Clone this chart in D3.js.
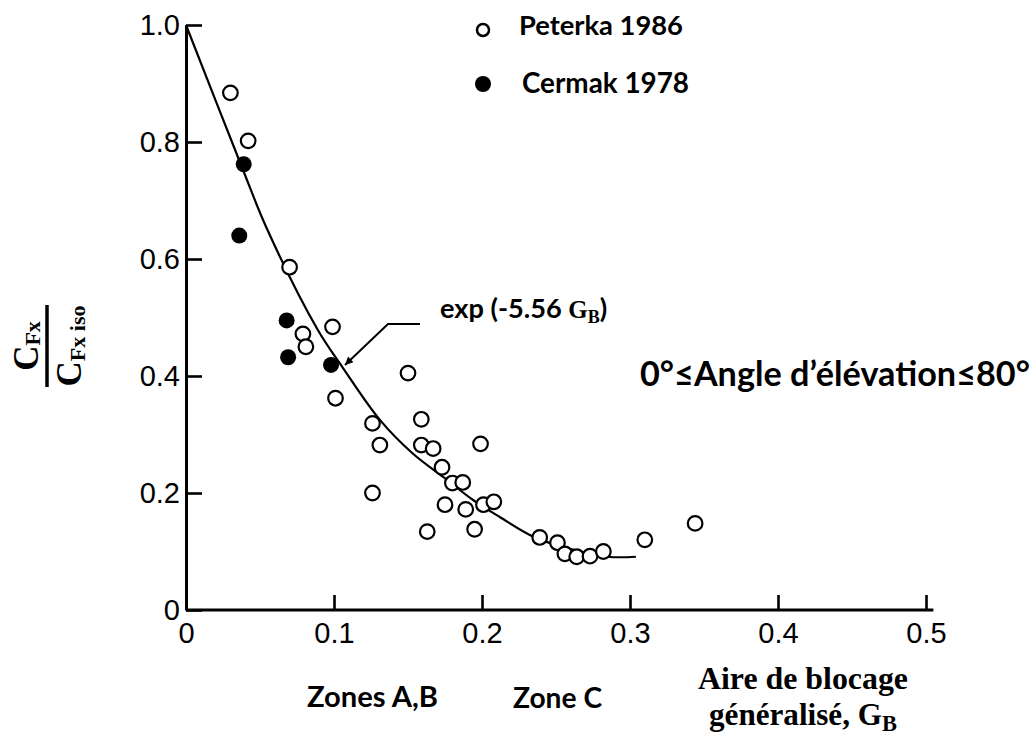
<!DOCTYPE html>
<html>
<head>
<meta charset="utf-8">
<script src="https://cdn.jsdelivr.net/npm/d3@7"></script>
<style>
  html, body { margin: 0; padding: 0; background: #fff; }
  svg { display: block; }
</style>
</head>
<body>
<svg id="chart" width="1036" height="740"></svg>
<script>
// ---- data ----
const peterkaX = [0.030, 0.042, 0.070, 0.099, 0.079, 0.081, 0.101, 0.126, 0.131, 0.150, 0.159, 0.159, 0.167, 0.199, 0.173, 0.180, 0.187, 0.126, 0.175, 0.189, 0.201, 0.208, 0.163, 0.195, 0.239, 0.251, 0.256, 0.264, 0.273, 0.282, 0.310, 0.344];
const peterkaY = [0.884, 0.802, 0.586, 0.484, 0.472, 0.450, 0.362, 0.319, 0.282, 0.405, 0.326, 0.282, 0.276, 0.284, 0.244, 0.217, 0.218, 0.200, 0.180, 0.172, 0.180, 0.185, 0.134, 0.138, 0.124, 0.115, 0.096, 0.091, 0.092, 0.100, 0.120, 0.148];
const cermakX = [0.039, 0.036, 0.068, 0.069, 0.098];
const cermakY = [0.762, 0.640, 0.495, 0.432, 0.419];
const curveX = [0.000, 0.037, 0.055, 0.089, 0.106, 0.131, 0.153, 0.174, 0.194, 0.212, 0.235, 0.260, 0.285, 0.304];
const curveY = [1.000, 0.762, 0.650, 0.479, 0.414, 0.325, 0.268, 0.227, 0.188, 0.159, 0.125, 0.104, 0.091, 0.091];
const xTicks = [0, 0.1, 0.2, 0.3, 0.4, 0.5];
const xTickLabels = ["0", "0.1", "0.2", "0.3", "0.4", "0.5"];
const yTicks = [0, 0.2, 0.4, 0.6, 0.8, 1.0];
const yTickLabels = ["0", "0.2", "0.4", "0.6", "0.8", "1.0"];
const legendLabels = ["Peterka 1986", "Cermak 1978"];

const svg = d3.select("#chart");
const x = d3.scaleLinear().domain([0, 0.5]).range([186, 926]);
const y = d3.scaleLinear().domain([0, 1]).range([610, 25]);

const sans = "Lato, 'Open Sans', sans-serif";
const serif = "'Liberation Serif', 'DejaVu Serif', serif";
const axisFont = "'Liberation Sans', Arial, sans-serif";

function fit(sel, w) {
  const node = sel.node();
  const fs = parseFloat(sel.attr("font-size"));
  const cur = node.getComputedTextLength();
  if (cur > 0) sel.attr("font-size", (fs * w / cur).toFixed(2));
  return sel;
}

// ---- axes ----
const yAxis = d3.axisLeft(y).tickValues(yTicks)
  .tickFormat((d, i) => yTickLabels[i]).tickSizeInner(-16).tickSizeOuter(0).tickPadding(6);
const gy = svg.append("g").attr("transform", `translate(${x(0)},0)`).call(yAxis);
gy.select(".domain").attr("stroke-width", 3).attr("stroke", "#000");
gy.selectAll(".tick line").attr("stroke-width", 2.6).attr("stroke", "#000");
gy.selectAll(".tick text").attr("font-family", axisFont).attr("font-size", 29).attr("fill", "#000");

const xAxis = d3.axisBottom(x).tickValues(xTicks)
  .tickFormat((d, i) => xTickLabels[i]).tickSizeInner(-15).tickSizeOuter(0).tickPadding(12);
const gx = svg.append("g").attr("transform", `translate(0,${y(0)})`).call(xAxis);
gx.select(".domain").attr("stroke-width", 3).attr("stroke", "#000")
  .attr("d", `M${x(0)},0H${x(0.505)}`);
gx.selectAll(".tick line").attr("stroke-width", 2.6).attr("stroke", "#000");
gx.selectAll(".tick").filter(d => d === 0).select("line").remove();
gx.selectAll(".tick text").attr("font-family", axisFont).attr("font-size", 29).attr("fill", "#000");

// ---- curve ----
const curvePts = curveX.map((d, i) => [d, curveY[i]]);
svg.append("path")
  .datum(curvePts)
  .attr("fill", "none").attr("stroke", "#000").attr("stroke-width", 2.2)
  .attr("d", d3.line().x(d => x(d[0])).y(d => y(d[1])).curve(d3.curveCatmullRom.alpha(0.5)));

// ---- points ----
const peterka = peterkaX.map((d, i) => [d, peterkaY[i]]);
const cermak = cermakX.map((d, i) => [d, cermakY[i]]);
svg.append("g").selectAll("circle").data(peterka).join("circle")
  .attr("cx", d => x(d[0])).attr("cy", d => y(d[1])).attr("r", 7.3)
  .attr("fill", "#fff").attr("stroke", "#000").attr("stroke-width", 2.2);
svg.append("g").selectAll("circle").data(cermak).join("circle")
  .attr("cx", d => x(d[0])).attr("cy", d => y(d[1])).attr("r", 8)
  .attr("fill", "#000");

// ---- legend ----
svg.append("circle").attr("cx", 483).attr("cy", 30).attr("r", 6).attr("fill", "#fff")
  .attr("stroke", "#000").attr("stroke-width", 2.5);
svg.append("circle").attr("cx", 483).attr("cy", 84).attr("r", 8).attr("fill", "#000");
fit(svg.append("text").attr("x", 519).attr("y", 35).attr("font-family", sans).attr("font-weight", 700)
  .attr("font-size", 24).text(legendLabels[0]), 164);
fit(svg.append("text").attr("x", 522).attr("y", 93).attr("font-family", sans).attr("font-weight", 700)
  .attr("font-size", 24).text(legendLabels[1]), 167);

// ---- annotation ----
svg.append("defs").append("marker").attr("id", "arr").attr("viewBox", "0 0 10 10")
  .attr("refX", 10).attr("refY", 5).attr("markerWidth", 10).attr("markerHeight", 8)
  .attr("markerUnits", "userSpaceOnUse").attr("orient", "auto")
  .append("path").attr("d", "M0,0L10,5L0,10z").attr("fill", "#000");
svg.append("path").attr("fill", "none").attr("stroke", "#000").attr("stroke-width", 2)
  .attr("d", "M420,324H388L345,365").attr("marker-end", "url(#arr)");

const ann = svg.append("text").attr("x", 440).attr("y", 318).attr("font-family", sans)
  .attr("font-weight", 700).attr("font-size", 23);
ann.append("tspan").text("exp (-5.56 ");
ann.append("tspan").attr("font-family", serif).attr("font-size", 25).text("G");
ann.append("tspan").attr("font-family", serif).attr("font-size", 18).attr("dy", 5).text("B");
ann.append("tspan").attr("dy", -5).text(")");
fit(ann, 173);

fit(svg.append("text").attr("x", 640).attr("y", 386).attr("font-family", sans).attr("font-weight", 700)
  .attr("font-size", 23).text("0°≤Angle d’élévation≤80°"), 390);

// ---- zone labels ----
fit(svg.append("text").attr("x", 307).attr("y", 707).attr("font-family", sans).attr("font-weight", 700)
  .attr("font-size", 23).text("Zones A,B"), 131);
fit(svg.append("text").attr("x", 513).attr("y", 708).attr("font-family", sans).attr("font-weight", 700)
  .attr("font-size", 23).text("Zone C"), 89);

// ---- x label ----
fit(svg.append("text").attr("x", 698).attr("y", 689).attr("font-family", serif).attr("font-weight", 700)
  .attr("font-size", 28).text("Aire de blocage"), 210);
const xl2 = svg.append("text").attr("x", 709).attr("y", 725).attr("font-family", serif)
  .attr("font-weight", 700).attr("font-size", 28);
xl2.append("tspan").text("généralisé, G");
xl2.append("tspan").attr("font-size", "0.72em").attr("dy", 6).text("B");
fit(xl2, 188);

// ---- y label (fraction) ----
const yl = svg.append("g").attr("transform", "translate(47,346) rotate(-90)");
const num = yl.append("text").attr("x", 0).attr("y", -9).attr("text-anchor", "middle")
  .attr("font-family", serif).attr("font-weight", 700).attr("font-size", 35);
num.append("tspan").text("C");
num.append("tspan").attr("font-size", 22).attr("dy", 2).text("Fx");
const den = yl.append("text").attr("x", 0).attr("y", 34).attr("text-anchor", "middle")
  .attr("font-family", serif).attr("font-weight", 700).attr("font-size", 35);
den.append("tspan").text("C");
den.append("tspan").attr("font-size", 22).attr("dy", 4).text("Fx iso");
yl.append("line").attr("x1", -41).attr("x2", 41).attr("y1", 0).attr("y2", 0)
  .attr("stroke", "#000").attr("stroke-width", 3.5);
</script>
</body>
</html>
